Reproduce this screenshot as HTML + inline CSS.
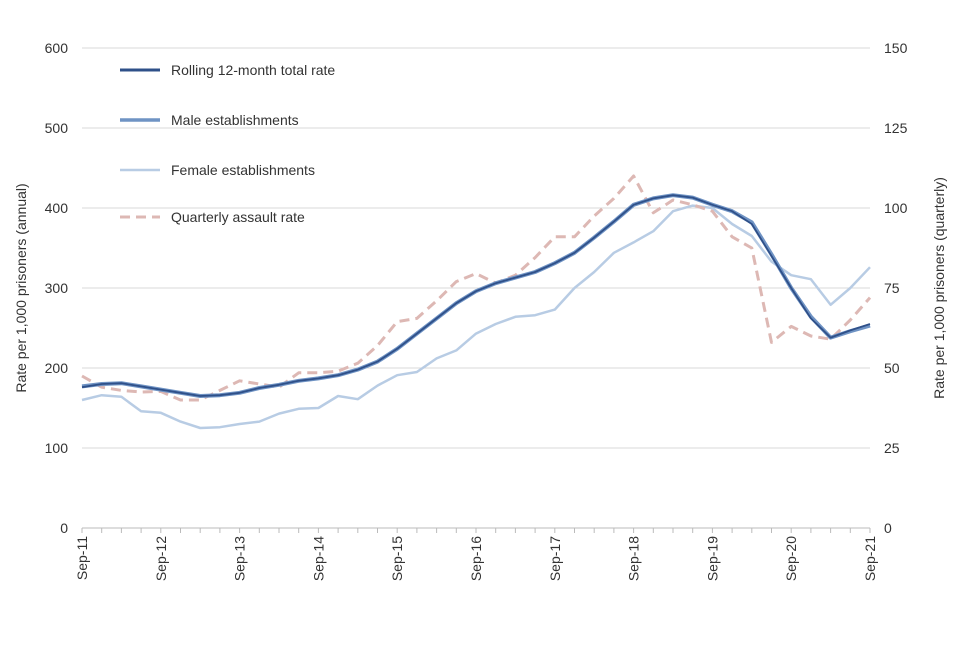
<!DOCTYPE html>
<html><head><meta charset="utf-8"><style>
body{margin:0;background:#fff;}
svg text{font-family:"Liberation Sans",Arial,sans-serif;fill:#333;}
</style></head><body>
<svg id="chart" width="960" height="640"></svg>
<script>
const quarterLabels=["Sep-11","Sep-12","Sep-13","Sep-14","Sep-15","Sep-16","Sep-17","Sep-18","Sep-19","Sep-20","Sep-21"];
const leftTicks=[0,100,200,300,400,500,600];
const rightTicks=[0,25,50,75,100,125,150];
const totalRate=[176,180,181,177,173,169,165,166,169,175,179,184,187,191,198,208,224,243,262,281,296,306,313,320,331,344,363,383,404,412,416,413,404,396,380,340,300,262,238,247,255];
const maleRate=[177,180,181,177,173,169,165,166,169,175,179,184,187,191,198,208,224,243,262,281,296,306,313,320,331,344,363,383,404,412,416,413,404,396,382,342,300,264,238,246,253];
const femaleRate=[160,166,164,146,144,133,125,126,130,133,143,149,150,165,161,178,191,195,212,222,243,255,264,266,273,300,320,344,357,371,396,403,400,380,365,333,316,311,279,300,326];
const quarterlyRate=[47.5,44,43,42.5,42.7,40,40,43,46,45,44,48.5,48.5,49,51.5,57,64.5,65.5,71,77,79.5,76.5,79,84.5,91,91,97.5,103,110,98.5,102.5,101,99,91,87.5,58,63,60,59,65,72];

const NS="http://www.w3.org/2000/svg";
const svg=document.getElementById('chart');
const X0=82,X1=870,Y0=528,Y1=48;
const xs=i=>X0+(X1-X0)*i/40;
const yl=v=>Y0-(Y0-Y1)*v/600;
const yr=v=>Y0-(Y0-Y1)*v/150;
function mk(t,a){const e=document.createElementNS(NS,t);for(const k in a)e.setAttribute(k,a[k]);svg.appendChild(e);return e;}

leftTicks.forEach(v=>{
  const g=mk('line',{x1:X0,x2:X1,y1:yl(v),y2:yl(v),stroke:v===0?'#bbb':'#d9d9d9','stroke-width':1});
  
  
  const t=mk('text',{x:X0-14,y:yl(v)+5,'text-anchor':'end','font-size':14});
  t.textContent=v;
  
  
});
rightTicks.forEach(v=>{
  const t=mk('text',{x:X1+14,y:yr(v)+5,'text-anchor':'start','font-size':14});
  t.textContent=v;
  
  
});
for(let i=0;i<=40;i++){
  const tk=mk('line',{x1:xs(i),x2:xs(i),y1:Y0,y2:Y0+5,stroke:'#bbb'});
  
  
}
quarterLabels.forEach((l,k)=>{
  const x=xs(k*4);
  const t=mk('text',{x:0,y:0,'text-anchor':'end','font-size':14,transform:`translate(${x+5},536) rotate(-90)`});
  t.textContent=l;
  
  
});
let t=mk('text',{x:0,y:0,'text-anchor':'middle','font-size':14,transform:`translate(26,${(Y0+Y1)/2}) rotate(-90)`});
t.textContent='Rate per 1,000 prisoners (annual)';


t=mk('text',{x:0,y:0,'text-anchor':'middle','font-size':14,transform:`translate(944,${(Y0+Y1)/2}) rotate(-90)`});
t.textContent='Rate per 1,000 prisoners (quarterly)';



function line(data,yf,attrs,name){
  const d=data.map((v,i)=>(i?'L':'M')+xs(i).toFixed(1)+','+yf(v).toFixed(1)).join('');
  const p=mk('path',Object.assign({d,fill:'none','stroke-linejoin':'round'},attrs));
  
  
}
line(femaleRate,yl,{stroke:'#b8cce4','stroke-width':2.5},'female-establishments-line');
line(quarterlyRate,yr,{stroke:'#ddb8b4','stroke-width':3,'stroke-dasharray':'10,6'},'quarterly-assault-line');
line(maleRate,yl,{stroke:'#6f93c4','stroke-width':4},'male-establishments-line');
line(totalRate,yl,{stroke:'#2f5089','stroke-width':1.8},'rolling-total-line');

const leg=[['Rolling 12-month total rate','#2f5089',3,'',70],['Male establishments','#6f93c4',3.5,'',120],['Female establishments','#b8cce4',2.5,'',170],['Quarterly assault rate','#ddb8b4',3,'10,6',217]];
leg.forEach(([lab,c,w,da,y])=>{
  const l=mk('line',{x1:120,x2:160,y1:y,y2:y,stroke:c,'stroke-width':w,'stroke-dasharray':da||'none'});
  
  
  const tx=mk('text',{x:171,y:y+5,'font-size':14});
  tx.textContent=lab;
  
  
});
</script>
</body></html>
